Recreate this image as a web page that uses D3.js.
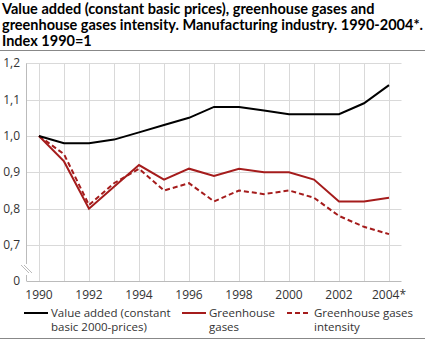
<!DOCTYPE html>
<html><head><meta charset="utf-8">
<script src="https://cdn.jsdelivr.net/npm/d3@7"></script>
<style>body{margin:0;background:#fff;} svg{display:block;font-family:"Open Sans",sans-serif;}</style>
</head><body>
<svg id="c" width="425" height="341"></svg>
<script>
const years = [1990,1991,1992,1993,1994,1995,1996,1997,1998,1999,2000,2001,2002,2003,2004];
const tickYears = [1990,1992,1994,1996,1998,2000,2002,2004];
const tickYearLabels = ["1990","1992","1994","1996","1998","2000","2002","2004*"];
const valueAdded = [1.00,0.98,0.98,0.99,1.01,1.03,1.05,1.08,1.08,1.07,1.06,1.06,1.06,1.09,1.14];
const greenhouse = [1.00,0.93,0.80,0.86,0.92,0.88,0.91,0.89,0.91,0.90,0.90,0.88,0.82,0.82,0.83];
const intensity  = [1.00,0.95,0.81,0.87,0.91,0.85,0.87,0.82,0.85,0.84,0.85,0.83,0.78,0.75,0.73];
const yTicks = [0.7,0.8,0.9,1.0,1.1,1.2];
const yTickLabels = ["0,7","0,8","0,9","1,0","1,1","1,2"];
const titleLines = ["Value added (constant basic prices), greenhouse gases and","greenhouse gases intensity. Manufacturing industry. 1990-2004*.","Index 1990=1"];
const legendItems = [
  {lines:["Value added (constant","basic 2000-prices)"], color:"#000", dash:null},
  {lines:["Greenhouse","gases"], color:"#a51c1c", dash:null},
  {lines:["Greenhouse gases","intensity"], color:"#a51c1c", dash:"5,3"}
];

const svg = d3.select("#c");
const red = "#a51c1c";
const x = d3.scaleLinear().domain([1989.5,2004.5]).range([26.5,401.5]);
const y = d3.scaleLinear().domain([0.7,1.2]).range([245,63.3]);
const yBase = 281;

titleLines.forEach((t,i)=>svg.append("text").attr("x",2).attr("y",14+i*16)
  .attr("font-family","Lato, sans-serif").attr("font-weight","bold").attr("font-size",14.5).attr("fill","#000").text(t));
svg.append("line").attr("x1",0).attr("x2",425).attr("y1",50.5).attr("y2",50.5).attr("stroke","#888");
svg.append("line").attr("x1",0).attr("x2",425).attr("y1",338.5).attr("y2",338.5).attr("stroke","#888");

const grid = "#d9d9d9";
svg.append("g").selectAll("line").data(years).join("line")
  .attr("x1",d=>Math.round(x(d))+0.5).attr("x2",d=>Math.round(x(d))+0.5)
  .attr("y1",y(1.2)).attr("y2",yBase).attr("stroke",grid);
svg.append("g").selectAll("line").data(yTicks).join("line")
  .attr("x1",x.range()[0]).attr("x2",x.range()[1])
  .attr("y1",d=>Math.round(y(d))+0.5).attr("y2",d=>Math.round(y(d))+0.5).attr("stroke",grid);
svg.append("line").attr("x1",x.range()[0]).attr("x2",x.range()[1]).attr("y1",yBase+0.5).attr("y2",yBase+0.5).attr("stroke","#bbb");
svg.append("line").attr("x1",26.5).attr("x2",26.5).attr("y1",y(1.2)).attr("y2",264).attr("stroke","#bbb");
svg.append("line").attr("x1",26.5).attr("x2",26.5).attr("y1",275).attr("y2",yBase).attr("stroke","#bbb");
[0,3].forEach(o=>svg.append("line").attr("x1",21+o).attr("y1",265).attr("x2",29+o).attr("y2",273).attr("stroke","#bbb"));

svg.append("g").selectAll("text").data(yTicks).join("text")
  .attr("x",20).attr("y",d=>y(d)+4).attr("text-anchor","end").attr("font-size",12).attr("fill","#333")
  .text((d,i)=>yTickLabels[i]);
svg.append("text").attr("x",20).attr("y",yBase+4).attr("text-anchor","end").attr("font-size",12).attr("fill","#333").text("0");
svg.append("g").selectAll("text").data(tickYears).join("text")
  .attr("x",d=>x(d)).attr("y",299).attr("text-anchor","middle").attr("font-size",12).attr("fill","#333")
  .text((d,i)=>tickYearLabels[i]);

const line = d3.line().x((d,i)=>x(years[i])).y(d=>y(d));
svg.append("path").datum(intensity).attr("d",line).attr("fill","none").attr("stroke",red).attr("stroke-width",2).attr("stroke-dasharray","5,3");
svg.append("path").datum(greenhouse).attr("d",line).attr("fill","none").attr("stroke",red).attr("stroke-width",2);
svg.append("path").datum(valueAdded).attr("d",line).attr("fill","none").attr("stroke","#000").attr("stroke-width",2);

const lx = [24,182,287];
legendItems.forEach((it,i)=>{
  const g = svg.append("g");
  g.append("line").attr("x1",lx[i]).attr("x2",lx[i]+24).attr("y1",313).attr("y2",313)
    .attr("stroke",it.color).attr("stroke-width",2).attr("stroke-dasharray",it.dash);
  it.lines.forEach((t,j)=>g.append("text").attr("x",lx[i]+27).attr("y",317+j*14)
    .attr("font-size",11.5).attr("fill","#333").text(t));
});
</script>
</body></html>
